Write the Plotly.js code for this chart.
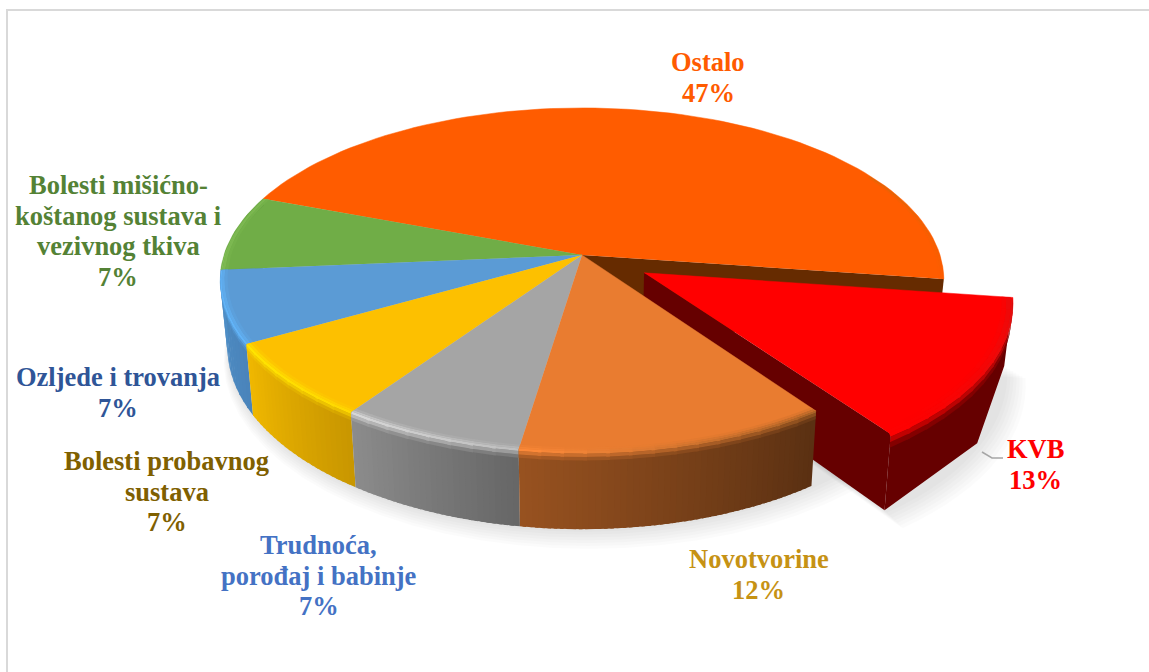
<!DOCTYPE html>
<html><head><meta charset="utf-8">
<script src="https://cdn.plot.ly/plotly-3.0.1.min.js"></script>
<style>html,body{margin:0;padding:0;background:#fff;overflow:hidden}#c{width:1149px;height:672px}</style>
</head><body><div id="c"></div>
<script>
// Data, clockwise from the first slice (slice sizes; labels show the rounded figures)
const categories = ["KVB","Novotvorine","Trudnoća, porođaj i babinje","Bolesti probavnog sustava","Ozljede i trovanja","Bolesti mišićno-koštanog sustava i vezivnog tkiva","Ostalo"];
const shares = [13,12.2,7.2,7.2,6.8,7.1,46.5];
const pull = [0.2,0,0,0,0,0,0];
const topColors  = ["#ff0000","#e97c30","#a5a5a5","#fdc000","#5b9bd5","#70ad47","#ff5c00"];
const wallStart  = ["#660000","#5a3012","#666666","#c89600","#4a84ba","#5f9a3c","#7a3a00"];
const wallEnd    = ["#660000","#985220","#8c8c8c","#f0b800","#4f8fc8","#5f9a3c","#a85000"];
const hiStart    = ["#e01010","#a86025","#bdbdbd","#ffd800","#62b4f8","#84c058","#c87010"];
const hiEnd      = ["#ff0000","#ff8a3a","#d8d8d8","#ffe600","#62b4f8","#84c058","#ff5c00"];
const labelLines = [["KVB","13%"],["Novotvorine","12%"],["Trudnoća,","porođaj i babinje","7%"],["Bolesti probavnog","sustava","7%"],["Ozljede i trovanja","7%"],["Bolesti mišićno-","koštanog sustava i","vezivnog tkiva","7%"],["Ostalo","47%"]];
const labelColor = ["#ff0000","#c69214","#4472c4","#7f6000","#2f5597","#548235","#ff5b00"];
const labelX = [1035,758.5,318.5,166.5,117.5,118,708];
const labelY = [449,559,545,461,377,185,62];
const labelStep = 30.7;
const startAngle = 8;          // degrees clockwise from east

// Projection of the tilted disc
const cx=582, cy=255, R=358, A=168.4, C=-0.145, DEPTH=66, SHRINK=0.02;
function proj(u,v,t){
  const d=1+C*v; let x=R*u/d, y=A*v/d;
  x*=1-SHRINK*t; y+=DEPTH*t/d;
  return [cx+x,cy+y];
}
const rad=a=>a*Math.PI/180;
function lerp(h1,h2,f){
  const p=h=>[1,3,5].map(i=>parseInt(h.substr(i,2),16));
  const a=p(h1),b=p(h2);
  return "#"+a.map((x,i)=>Math.round(x+(b[i]-x)*f).toString(16).padStart(2,"0")).join("");
}
const traces=[];
function poly(pts,color,name,lw){
  traces.push({type:"scatter",mode:"lines",x:pts.map(p=>p[0]),y:pts.map(p=>p[1]),fill:"toself",fillcolor:color,
    line:{color:color,width:lw||0},showlegend:false,name:name||"",hoverinfo:name?"name":"skip"});
}
const total=shares.reduce((a,b)=>a+b,0);
let ang=startAngle;
const slices=shares.map((s,i)=>{const a0=ang;ang+=s/total*360;const m=rad((a0+ang)/2);
  return {i,a0,a1:ang,ou:pull[i]*Math.cos(m),ov:pull[i]*Math.sin(m)};});
function pt(s,a,rho,t){return proj(s.ou+rho*Math.cos(rad(a)),s.ov+rho*Math.sin(rad(a)),t);}
function arc(s,a0,a1,rho,t,n){const o=[];for(let k=0;k<=n;k++)o.push(pt(s,a0+(a1-a0)*k/n,rho,t));return o;}

// soft ground shadow
for(let l=7;l>=1;l--){
  const c="rgba(0,0,0,0.014)";
  const pts=[];for(let a=0;a<=360;a+=5){const p=proj((1+l*0.005)*Math.cos(rad(a))*0.995,(1+l*0.005)*Math.sin(rad(a)),1);pts.push([p[0]+l,p[1]+l*1.6]);}
  traces.push({type:"scatter",mode:"lines",x:pts.map(p=>p[0]),y:pts.map(p=>p[1]),fill:"toself",fillcolor:c,line:{width:0},showlegend:false,hoverinfo:"skip"});
  const k=slices[0];const q=[pt(k,k.a0,0,1)].concat(arc(k,k.a0,k.a1,1+l*0.005,1,16)).map(p=>[p[0]+l*1.2,p[1]+l*1.6]);
  traces.push({type:"scatter",mode:"lines",x:q.map(p=>p[0]),y:q.map(p=>p[1]),fill:"toself",fillcolor:c,line:{width:0},showlegend:false,hoverinfo:"skip"});
}
const BANDS=5, OVER=0.5;
function drawSlice(s,strips,wallStrips,bandFrom,withWalls,rho0,tb){
  const i=s.i;
  if(withWalls){
    for(let n=0;n<wallStrips;n++){
      const a=s.a0+(s.a1-s.a0)*n/wallStrips,b=Math.min(s.a1,s.a0+(s.a1-s.a0)*(n+1)/wallStrips+OVER);
      const c=lerp(wallStart[i],wallEnd[i],(n+.5)/wallStrips);
      poly(arc(s,a,b,1,0,2).concat(arc(s,b,a,1,1,2)),c);
    }
  }
  poly([pt(s,s.a0,0,0)].concat(arc(s,s.a0,s.a1,1,0,Math.max(12,Math.round((s.a1-s.a0)/2)))),topColors[i],categories[i],0.5);
  const from=bandFrom===null?s.a0:bandFrom;
  for(let j=BANDS-1;j>=0;j--){
    const s0=j/BANDS,s1=(j+1)/BANDS,sm=(s0+s1)/2;
    if(!withWalls && sm>.5) continue;
    const g=x=>[rho0+(1-rho0)*Math.min(1,x/.5),Math.max(0,(x-.5)/.5)*tb];
    const [r0,t0]=g(s0),[r1,t1]=g(s1);
    for(let n=0;n<strips;n++){
      const a=from+(s.a1-from)*n/strips,b=Math.min(s.a1,from+(s.a1-from)*(n+1)/strips+OVER),f=(n+.5)/strips;
      const wc=lerp(wallStart[i],wallEnd[i],f);
      const hi=lerp(hiStart[i],hiEnd[i],f);
      const c=sm<.5?lerp(topColors[i],hi,sm/.5):lerp(hi,wc,(sm-.5)/.5);
      poly(arc(s,a,b,r0,t0,3).concat(arc(s,b,a,r1,t1,3)),c);
    }
  }
}
const [kvb,novo,trud,prob,ozl,mis,ost]=slices;
poly([pt(ost,ost.a1,0,0),pt(ost,ost.a1,1,0),pt(ost,ost.a1,1,1),pt(ost,ost.a1,0,1)],"#662b00");
drawSlice(ost,10,0,330,false,0.985,0.1);
drawSlice(mis,4,2,null,true,0.98,0.11);
drawSlice(ozl,8,12,null,true,0.98,0.11);
drawSlice(prob,8,24,null,true,0.98,0.11);
drawSlice(trud,8,30,null,true,0.98,0.11);
poly([pt(kvb,kvb.a1,0,0),pt(kvb,kvb.a1,1,0),pt(kvb,kvb.a1,1,1),pt(kvb,kvb.a1,0,1)],"#660000");
drawSlice(kvb,12,1,null,true,0.97,0.18);
drawSlice(novo,14,50,null,true,0.98,0.11);

const annotations=[];
labelLines.forEach((lines,i)=>lines.forEach((text,j)=>annotations.push({x:labelX[i],y:labelY[i]+j*labelStep,xref:"x",yref:"y",text:"<b>"+text+"</b>",showarrow:false,
  xanchor:"center",yanchor:"middle",align:"center",font:{family:"'Liberation Serif',serif",size:26.5,color:labelColor[i]}})));

const layout={width:1149,height:672,margin:{l:0,r:0,t:0,b:0},paper_bgcolor:"#fff",plot_bgcolor:"#fff",showlegend:false,
  xaxis:{range:[0,1149],visible:false,fixedrange:true},
  yaxis:{range:[672,0],visible:false,fixedrange:true},
  annotations,
  shapes:[
    {type:"path",path:"M7,672 L7,10 L1149,10",xref:"x",yref:"y",line:{color:"#d9d9d9",width:2},layer:"below"},
    {type:"path",path:"M982,452 L992,458 L1003,458",xref:"x",yref:"y",line:{color:"#a6a6a6",width:1.5}}
  ]};
Plotly.newPlot("c",traces,layout,{displayModeBar:false});
</script></body></html>
